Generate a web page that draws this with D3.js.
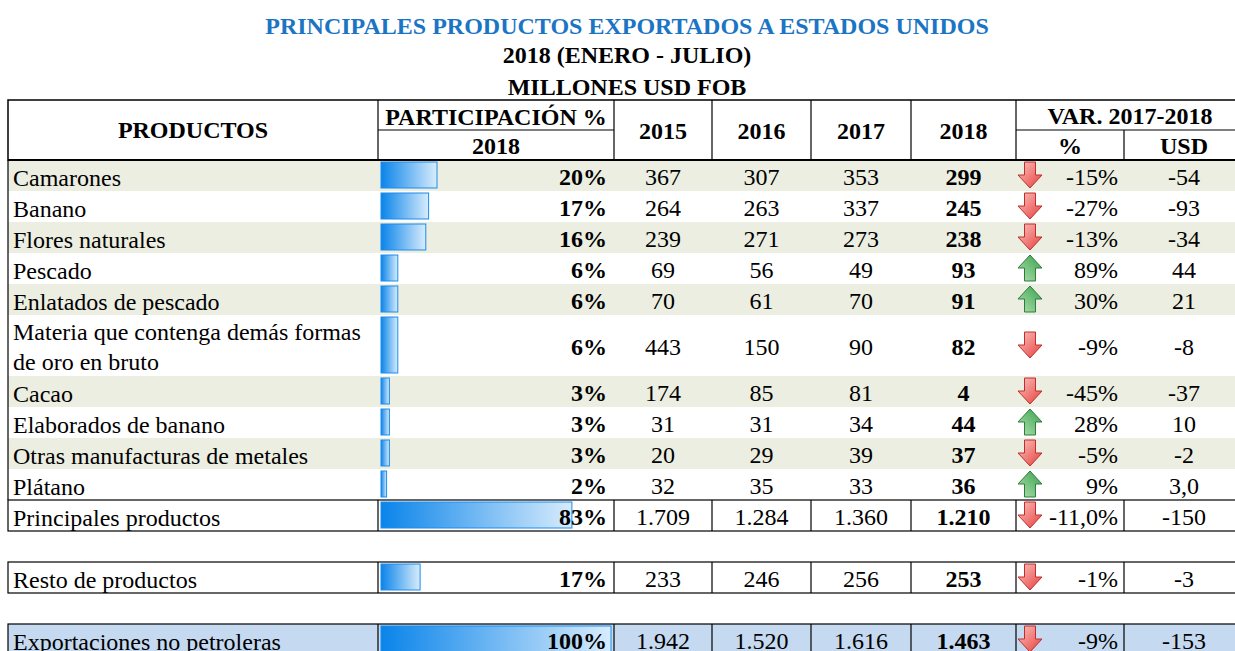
<!DOCTYPE html>
<html>
<head>
<meta charset="utf-8">
<script src="https://cdn.jsdelivr.net/npm/d3@7"></script>
<style>
    body { margin: 0; background: #fff; }
</style>
</head>
<body>
<script>
const productos = ["Camarones", "Banano", "Flores naturales", "Pescado", "Enlatados de pescado",
    "Materia que contenga demás formas de oro en bruto", "Cacao", "Elaborados de banano",
    "Otras manufacturas de metales", "Plátano"];
const participacion = [0.20, 0.17, 0.16, 0.06, 0.06, 0.06, 0.03, 0.03, 0.03, 0.02];
const v2015 = [367, 264, 239, 69, 70, 443, 174, 31, 20, 32];
const v2016 = [307, 263, 271, 56, 61, 150, 85, 31, 29, 35];
const v2017 = [353, 337, 273, 49, 70, 90, 81, 34, 39, 33];
const v2018 = [299, 245, 238, 93, 91, 82, 4, 44, 37, 36];
const varPct = [-0.15, -0.27, -0.13, 0.89, 0.30, -0.09, -0.45, 0.28, -0.05, 0.09];
const varUsd = [-54, -93, -34, 44, 21, -8, -37, 10, -2, 3.0];
const varUsdDec = [0, 0, 0, 0, 0, 0, 0, 0, 0, 1];

const totales = ["Principales productos", "Resto de productos", "Exportaciones no petroleras"];
const totPart = [0.83, 0.17, 1.00];
const tot2015 = [1709, 233, 1942];
const tot2016 = [1284, 246, 1520];
const tot2017 = [1360, 256, 1616];
const tot2018 = [1210, 253, 1463];
const totVarPct = [-0.110, -0.01, -0.09];
const totPctDec = [1, 0, 0];
const totVarUsd = [-150, -3, -153];

const years = ["2015", "2016", "2017", "2018"];

const W = 1235, H = 651;
const svg = d3.select("body").append("svg")
    .attr("width", W).attr("height", H)
    .attr("font-family", "'Liberation Serif', 'Times New Roman', Tinos, 'DejaVu Serif', serif");

const loc = d3.formatLocale({ decimal: ",", thousands: ".", grouping: [3], currency: ["", ""], minus: "-" });
const fmtInt = loc.format(",d");
const fmtPct = dec => loc.format("." + dec + "%");
const fmtNum = dec => loc.format(",." + dec + "f");

// column edges
const colX = [8, 378, 614, 712, 811, 911, 1016, 1124, 1244];
const yearCenter = i => (colX[2 + i] + colX[3 + i]) / 2;

const defs = svg.append("defs");
const barGrad = defs.append("linearGradient").attr("id", "barGrad");
barGrad.append("stop").attr("offset", "0%").attr("stop-color", "#0A84EA");
barGrad.append("stop").attr("offset", "100%").attr("stop-color", "#D8ECFC");
const redGrad = defs.append("linearGradient").attr("id", "redGrad")
    .attr("x1", 0).attr("y1", 0).attr("x2", 1).attr("y2", 1);
redGrad.append("stop").attr("offset", "0%").attr("stop-color", "#FBC4C2");
redGrad.append("stop").attr("offset", "100%").attr("stop-color", "#E63E3A");
const greenGrad = defs.append("linearGradient").attr("id", "greenGrad")
    .attr("x1", 0).attr("y1", 0).attr("x2", 1).attr("y2", 1);
greenGrad.append("stop").attr("offset", "0%").attr("stop-color", "#B4E2B2");
greenGrad.append("stop").attr("offset", "100%").attr("stop-color", "#35A04A");

// title
const titles = [
    { t: "PRINCIPALES PRODUCTOS EXPORTADOS A ESTADOS UNIDOS", y: 34, c: "#1B75C4" },
    { t: "2018 (ENERO - JULIO)", y: 63, c: "#000" },
    { t: "MILLONES USD FOB", y: 95, c: "#000" }
];
svg.selectAll(".title").data(titles).enter().append("text")
    .attr("class", "title")
    .attr("x", 627).attr("y", d => d.y)
    .attr("text-anchor", "middle")
    .attr("font-size", 24).attr("font-weight", "bold")
    .attr("fill", d => d.c)
    .text(d => d.t);

// rows layout
const rowH = 31;
const rowHeights = productos.map((d, i) => i === 5 ? 61 : rowH);
const rowTop = [];
let acc = 160;
rowHeights.forEach(h => { rowTop.push(acc); acc += h; });
const totTop = [acc, acc + 2 * rowH, acc + 4 * rowH];

const xProd = d3.scaleLinear().domain([0, 0.2]).range([0, 56]);
const xTot = d3.scaleLinear().domain([0, 1]).range([0, 230]);

const rows = productos.map((p, i) => ({
    name: p, part: participacion[i], vals: [v2015[i], v2016[i], v2017[i], v2018[i]],
    pct: varPct[i], pctLabel: fmtPct(0)(varPct[i]), usd: fmtNum(varUsdDec[i])(varUsd[i]),
    top: rowTop[i], h: rowHeights[i], scale: xProd, shade: i % 2 === 0, total: false
}));
totales.forEach((p, i) => rows.push({
    name: p, part: totPart[i], vals: [tot2015[i], tot2016[i], tot2017[i], tot2018[i]],
    pct: totVarPct[i], pctLabel: fmtPct(totPctDec[i])(totVarPct[i]), usd: fmtInt(totVarUsd[i]),
    top: totTop[i], h: rowH, scale: xTot, shade: false, total: true, blue: i === 2
}));

// backgrounds
svg.selectAll(".bg").data(rows.filter(d => d.shade || d.blue)).enter().append("rect")
    .attr("x", colX[0]).attr("width", colX[8] - colX[0])
    .attr("y", d => d.top).attr("height", d => d.h)
    .attr("fill", d => d.blue ? "#C5D9F1" : "#EBEEE0");

// participation bars
svg.selectAll(".bar").data(rows).enter().append("rect")
    .attr("class", "bar")
    .attr("x", colX[1] + 3)
    .attr("y", d => d.top + 2)
    .attr("width", d => d.scale(d.part))
    .attr("height", d => d.h - 5)
    .attr("fill", "url(#barGrad)")
    .attr("stroke", "#1A8CF0").attr("stroke-width", 1);

const g = svg.selectAll(".row").data(rows).enter().append("g")
    .attr("transform", d => "translate(0," + d.top + ")");

// product names (wrapped)
g.append("text")
    .attr("x", 13)
    .attr("font-size", 24)
    .each(function(d) {
        const t = d3.select(this);
        const words = d.name.split(" ");
        let line = [], lines = [];
        const probe = t.append("tspan");
        words.forEach(w => {
            line.push(w);
            probe.text(line.join(" "));
            if (probe.node().getComputedTextLength() > 360 && line.length > 1) {
                line.pop(); lines.push(line.join(" ")); line = [w];
            }
        });
        lines.push(line.join(" "));
        probe.remove();
        const y0 = d.h / 2 + 10 - (lines.length - 1) * 15;
        lines.forEach((l, k) => t.append("tspan").attr("x", 13).attr("y", y0 + k * 30 - (lines.length > 1 ? 1 : 0)).text(l));
    });

const baseY = d => d.h / 2 + 9;

g.append("text")
    .attr("x", 607).attr("y", baseY)
    .attr("text-anchor", "end")
    .attr("font-size", 24).attr("font-weight", "bold")
    .text(d => fmtPct(0)(d.part));

years.forEach((yr, k) => {
    g.append("text")
        .attr("x", yearCenter(k)).attr("y", baseY)
        .attr("text-anchor", "middle")
        .attr("font-size", 24)
        .attr("font-weight", k === 3 ? "bold" : "normal")
        .text(d => fmtInt(d.vals[k]));
});

g.append("text")
    .attr("x", 1118).attr("y", baseY)
    .attr("text-anchor", "end")
    .attr("font-size", 24)
    .text(d => d.pctLabel);

g.append("text")
    .attr("x", (colX[7] + colX[8]) / 2).attr("y", baseY)
    .attr("text-anchor", "middle")
    .attr("font-size", 24)
    .text(d => d.usd);

// arrows
const downArrow = "M-5.5,-13H5.5V0H12L0,13L-12,0H-5.5Z";
g.append("path")
    .attr("transform", d => "translate(1030," + (d.h / 2 - 0.5) + ")" + (d.pct >= 0 ? " scale(1,-1)" : ""))
    .attr("d", downArrow)
    .attr("fill", d => d.pct >= 0 ? "url(#greenGrad)" : "url(#redGrad)")
    .attr("stroke", d => d.pct >= 0 ? "#2E7D3A" : "#BE2E2B")
    .attr("stroke-width", 1);

// borders
const lines = svg.append("g").attr("stroke", "#000").attr("fill", "none");
lines.append("rect").attr("x", colX[0]).attr("y", 100).attr("width", colX[8] - colX[0]).attr("height", 60)
    .attr("stroke-width", 1.5);
lines.append("line").attr("x1", colX[0]).attr("x2", colX[8]).attr("y1", 160).attr("y2", 160).attr("stroke-width", 2);
colX.slice(1, 7).forEach(x => lines.append("line").attr("x1", x).attr("x2", x).attr("y1", 100).attr("y2", 160).attr("stroke-width", 1.2));
lines.append("line").attr("x1", colX[7]).attr("x2", colX[7]).attr("y1", 130).attr("y2", 160).attr("stroke-width", 1.2);
[[colX[1], colX[2]], [colX[6], colX[8]]].forEach(s => lines.append("line")
    .attr("x1", s[0]).attr("x2", s[1]).attr("y1", 130).attr("y2", 130).attr("stroke-width", 1.2));
lines.append("line").attr("x1", colX[0]).attr("x2", colX[0]).attr("y1", 160).attr("y2", totTop[0]).attr("stroke-width", 1.2);

totTop.forEach(t => {
    lines.append("rect").attr("x", colX[0]).attr("y", t).attr("width", colX[8] - colX[0]).attr("height", rowH)
        .attr("stroke-width", 1.2);
    colX.slice(1, 8).forEach(x => lines.append("line").attr("x1", x).attr("x2", x).attr("y1", t).attr("y2", t + rowH).attr("stroke-width", 1.2));
});

// header labels
const hdr = svg.append("g").attr("font-size", 24).attr("font-weight", "bold").attr("text-anchor", "middle");
hdr.append("text").attr("x", (colX[0] + colX[1]) / 2).attr("y", 138).text("PRODUCTOS");
hdr.append("text").attr("x", (colX[1] + colX[2]) / 2).attr("y", 125).text("PARTICIPACIÓN %");
hdr.append("text").attr("x", (colX[1] + colX[2]) / 2).attr("y", 154).text("2018");
years.forEach((yr, k) => hdr.append("text").attr("x", yearCenter(k)).attr("y", 139).text(yr));
hdr.append("text").attr("x", (colX[6] + colX[8]) / 2).attr("y", 124).text("VAR. 2017-2018");
hdr.append("text").attr("x", (colX[6] + colX[7]) / 2).attr("y", 154).text("%");
hdr.append("text").attr("x", (colX[7] + colX[8]) / 2).attr("y", 154).text("USD");
</script>
</body>
</html>
